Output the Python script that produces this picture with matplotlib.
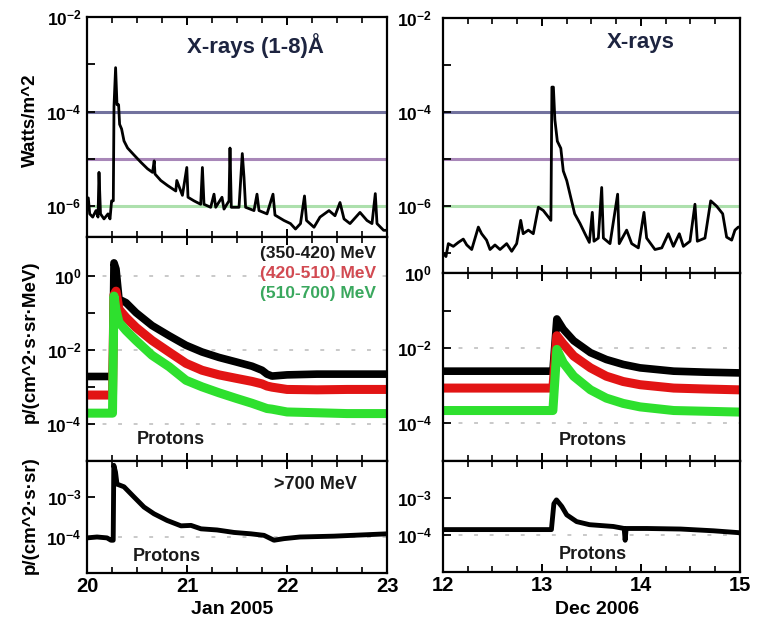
import matplotlib
matplotlib.use('Agg')
import matplotlib.pyplot as plt
from matplotlib.ticker import MultipleLocator, NullLocator

plt.rcParams['font.family'] = ['Liberation Sans', 'DejaVu Sans']
plt.rcParams['font.weight'] = 'bold'
plt.rcParams['mathtext.fontset'] = 'custom'
plt.rcParams['mathtext.rm'] = 'Liberation Sans:bold'
plt.rcParams['mathtext.bf'] = 'Liberation Sans:bold'
plt.rcParams['mathtext.default'] = 'bf'

# ---------------- data ----------------
# GOES X-rays, Jan 2005
xray_jan_t = [20.00, 20.013, 20.027, 20.057, 20.09, 20.11, 20.12, 20.135, 20.17, 20.21, 20.23,
              20.246, 20.263, 20.27, 20.286, 20.30, 20.316, 20.326, 20.346, 20.37, 20.406,
              20.472, 20.539, 20.605, 20.655, 20.672, 20.68, 20.738, 20.805, 20.888, 20.898,
              20.954, 20.998, 21.01, 21.07, 21.137, 21.154, 21.17, 21.237, 21.27, 21.287,
              21.35, 21.37, 21.42, 21.43, 21.443, 21.52, 21.553, 21.57, 21.586, 21.67, 21.70,
              21.72, 21.80, 21.86, 21.88, 21.97, 22.035, 22.085, 22.135, 22.175, 22.195,
              22.27, 22.33, 22.42, 22.48, 22.53, 22.57, 22.63, 22.73, 22.80, 22.85, 22.883,
              22.90, 22.966, 23.0]
xray_jan_f = [1.5e-6, 1.5e-6, 6.9e-7, 5.9e-7, 8.1e-7, 5.9e-7, 5.2e-6, 6.9e-7, 5.4e-7, 6.9e-7, 5.4e-7,
              1.3e-6, 1.3e-6, 1.3e-4, 8.5e-4, 1.4e-4, 1.4e-4, 5.4e-5, 4.3e-5, 2.4e-5, 1.7e-5,
              1.2e-5, 8.5e-6, 6.2e-6, 5.2e-6, 9.1e-6, 4.8e-6, 3.5e-6, 2.75e-6, 2.1e-6, 3.5e-6,
              1.7e-6, 6.6e-6, 1.55e-6, 1.3e-6, 1.1e-6, 6.6e-6, 1.1e-6, 9.5e-7, 1.8e-6, 9.5e-7,
              1.55e-6, 8.7e-7, 1.3e-6, 1.7e-5, 9.5e-7, 9.5e-7, 1.3e-5, 4.1e-6, 9.5e-7, 8.1e-7, 1.8e-6,
              8.1e-7, 6.9e-7, 1.8e-6, 6.5e-7, 5.0e-7, 4.3e-7, 3.3e-7, 4.3e-7, 1.65e-6, 5.0e-7,
              3.6e-7, 5.9e-7, 8.1e-7, 6.3e-7, 1.2e-6, 5.4e-7, 4.3e-7, 7.4e-7, 5.0e-7, 4.3e-7, 1.85e-6,
              4.3e-7, 3.1e-7, 3.1e-7]

# GOES X-rays, Dec 2006
xray_dec_t = [12.00, 12.03, 12.054, 12.104, 12.155, 12.205, 12.24, 12.29, 12.357, 12.39, 12.44,
              12.475, 12.525, 12.576, 12.643, 12.694, 12.744, 12.785, 12.81, 12.862, 12.912,
              12.963, 13.013, 13.064, 13.09, 13.10, 13.115, 13.13, 13.155, 13.19, 13.215, 13.25,
              13.29, 13.33, 13.384, 13.434, 13.478, 13.508, 13.525, 13.569, 13.603, 13.62, 13.687,
              13.764, 13.78, 13.855, 13.906, 13.973, 14.03, 14.057, 14.141, 14.21, 14.276, 14.327,
              14.387, 14.428, 14.495, 14.545, 14.569, 14.646, 14.704, 14.764, 14.825, 14.865,
              14.916, 14.949, 14.983, 15.0]
xray_dec_f = [1.0e-7, 8.5e-8, 1.6e-7, 1.4e-7, 1.7e-7, 2.0e-7, 1.5e-7, 1.2e-7, 3.6e-7, 2.6e-7, 1.9e-7,
              1.2e-7, 1.5e-7, 1.2e-7, 1.6e-7, 1.1e-7, 1.6e-7, 5.0e-7, 2.6e-7, 3.1e-7, 2.6e-7,
              9.5e-7, 8.1e-7, 5.9e-7, 5.0e-7, 3.4e-4, 3.4e-4, 6.9e-5, 2.4e-5, 1.7e-5, 5.6e-6, 3.5e-6,
              1.55e-6, 6.9e-7, 4.3e-7, 2.6e-7, 1.7e-7, 7.4e-7, 1.8e-7, 2.1e-7, 2.5e-6, 2.1e-7, 1.6e-7,
              1.8e-6, 1.6e-7, 3.1e-7, 1.6e-7, 1.3e-7, 7.4e-7, 2.1e-7, 1.2e-7, 1.3e-7, 2.6e-7, 1.4e-7,
              2.6e-7, 1.4e-7, 1.8e-7, 1.1e-6, 1.8e-7, 2.1e-7, 1.3e-6, 1.0e-6, 6.9e-7, 2.2e-7,
              1.9e-7, 3.1e-7, 3.6e-7, 3.6e-7]

# flare class levels (X, M, C)
xray_levels = [1e-4, 1e-5, 1e-6]

# protons, Jan 2005
p_jan_t = [20.00, 20.10, 20.20, 20.255, 20.27, 20.29, 20.32, 20.39, 20.49, 20.65, 20.82, 20.99,
           21.15, 21.32, 21.49, 21.65, 21.75, 21.80, 21.85, 22.00, 22.30, 22.60, 23.00]
p_jan_350 = [1.9e-3, 1.9e-3, 1.9e-3, 1.9e-3, 2.2, 1.5, 0.23, 0.186, 0.1, 0.045, 0.024, 0.0132,
             8.7e-3, 6.2e-3, 4.7e-3, 3.6e-3, 2.8e-3, 2.2e-3, 1.95e-3, 2.1e-3, 2.2e-3, 2.2e-3, 2.2e-3]
p_jan_420 = [6.0e-4, 6.0e-4, 6.0e-4, 6.0e-4, 0.30, 0.38, 0.123, 0.074, 0.040, 0.0178, 8.7e-3, 4.3e-3,
             2.8e-3, 2.1e-3, 1.7e-3, 1.4e-3, 1.2e-3, 1.05e-3, 9.8e-4, 8.5e-4, 8.3e-4, 8.5e-4, 8.5e-4]
p_jan_510 = [1.95e-4, 1.95e-4, 1.95e-4, 1.95e-4, 0.28, 0.12, 0.055, 0.033, 0.0178, 7.1e-3, 3.5e-3, 1.5e-3,
             1.0e-3, 6.9e-4, 4.9e-4, 3.6e-4, 2.9e-4, 2.6e-4, 2.5e-4, 2.1e-4, 2.0e-4, 1.9e-4, 1.9e-4]

# protons, Dec 2006
p_dec_t = [12.00, 12.50, 13.00, 13.11, 13.15, 13.215, 13.32, 13.49, 13.65, 13.82, 13.99, 14.33, 14.66, 15.00]
p_dec_350 = [2.45e-3, 2.45e-3, 2.45e-3, 2.45e-3, 0.060, 0.032, 0.0158, 7.6e-3, 5.0e-3, 3.7e-3, 3.0e-3, 2.45e-3, 2.3e-3, 2.2e-3]
p_dec_420 = [8.7e-4, 8.7e-4, 8.7e-4, 8.7e-4, 0.0214, 0.0129, 6.2e-3, 3.0e-3, 1.8e-3, 1.3e-3, 1.07e-3, 8.7e-4, 8.2e-4, 7.8e-4]
p_dec_510 = [2.2e-4, 2.2e-4, 2.2e-4, 2.2e-4, 9.3e-3, 4.1e-3, 1.8e-3, 7.8e-4, 4.7e-4, 3.4e-4, 2.75e-4, 2.2e-4, 2.1e-4, 2.0e-4]

# protons > 700 MeV
hi_jan_t = [20.00, 20.10, 20.20, 20.24, 20.262, 20.268, 20.285, 20.30, 20.37, 20.47, 20.57, 20.67,
            20.80, 20.94, 21.04, 21.14, 21.30, 21.47, 21.64, 21.77, 21.87, 21.97, 22.13, 22.47, 23.00]
hi_jan = [9.5e-5, 1.0e-4, 9.5e-5, 8.3e-5, 8.3e-5, 6.2e-3, 4.2e-3, 2.1e-3, 1.8e-3, 1.0e-3, 5.6e-4, 3.8e-4,
          2.6e-4, 1.9e-4, 1.95e-4, 1.6e-4, 1.5e-4, 1.3e-4, 1.2e-4, 1.1e-4, 8.3e-5, 9.1e-5, 1.0e-4, 1.05e-4, 1.2e-4]
hi_dec_t = [12.00, 12.50, 13.00, 13.095, 13.12, 13.146, 13.20, 13.25, 13.35, 13.48, 13.72, 13.83,
            13.84, 13.85, 14.06, 14.40, 14.73, 15.00]
hi_dec = [1.4e-4, 1.4e-4, 1.4e-4, 1.4e-4, 7.0e-4, 8.9e-4, 5.9e-4, 3.5e-4, 2.3e-4, 1.9e-4, 1.7e-4, 1.5e-4,
          7.2e-5, 1.5e-4, 1.5e-4, 1.45e-4, 1.3e-4, 1.15e-4]

# ticks
xticks_jan = [20, 21, 22, 23]
xticks_dec = [12, 13, 14, 15]
xray_yticks = [1e-7, 1e-6, 1e-5, 1e-4, 1e-3, 1e-2]
xray_ylabels = ['', r'$10^{-6}$', '', r'$10^{-4}$', '', r'$10^{-2}$']
p_yticks = [1e-5, 1e-4, 1e-3, 1e-2, 1e-1, 1e0]
p_ylabels = ['', r'$10^{-4}$', '', r'$10^{-2}$', '', r'$10^{0}$']
hi_yticks = [1e-4, 1e-3]
hi_ylabels = [r'$10^{-4}$', r'$10^{-3}$']
energy_labels = ['(350-420) MeV', '(420-510) MeV', '(510-700) MeV']

# ---------------- figure ----------------
W, H = 757, 626
fig = plt.figure(figsize=(W / 100, H / 100), dpi=100)


def box(x0, y0, x1, y1):
    return [x0 / W, 1 - y1 / H, (x1 - x0) / W, (y1 - y0) / H]


axL1 = fig.add_axes(box(87, 17, 387, 237))
axL2 = fig.add_axes(box(87, 237, 387, 461))
axL3 = fig.add_axes(box(87, 461, 387, 573))
axR1 = fig.add_axes(box(443, 18, 740, 273))
axR2 = fig.add_axes(box(443, 273, 740, 461))
axR3 = fig.add_axes(box(443, 461, 740, 572))


def style(ax, xlim, xticks, yticks, ylabels, ylim, bottom_labels, ypad):
    ax.set_yscale('log')
    ax.set_xlim(*xlim)
    ax.set_xticks(xticks)
    ax.xaxis.set_minor_locator(MultipleLocator(0.25))
    ax.set_yticks(yticks)
    ax.set_yticklabels(ylabels)
    ax.yaxis.set_minor_locator(NullLocator())
    ax.set_ylim(*ylim)
    for s in ax.spines.values():
        s.set_linewidth(1.6)
    ax.tick_params(axis='x', which='major', direction='in', top=True, bottom=True,
                   length=6, width=1.4, labelbottom=bottom_labels, labelsize=14.5, pad=3)
    ax.tick_params(axis='x', which='minor', direction='in', top=True, bottom=True,
                   length=4, width=1.2)
    ax.tick_params(axis='y', which='major', direction='in', left=True, right=False,
                   length=6, width=1.3, labelsize=12.5, pad=ypad)
    if bottom_labels:
        for lab in ax.get_xticklabels():
            lab.set_fontweight('bold')


xlim_jan = (20, 23)
xlim_dec = (12, 15)

style(axL1, xlim_jan, xticks_jan, xray_yticks, xray_ylabels, (10 ** -6.65, 1e-2), False, 4)
style(axR1, xlim_dec, xticks_dec, xray_yticks, xray_ylabels, (10 ** -7.42, 1e-2), False, 8)
style(axL2, xlim_jan, xticks_jan, p_yticks, p_ylabels, (1e-5, 10 ** 1.04), False, 4)
style(axR2, xlim_dec, xticks_dec, p_yticks, p_ylabels, (1e-5, 1e0), False, 8)
style(axL3, xlim_jan, xticks_jan, hi_yticks, hi_ylabels, (10 ** -4.9, 10 ** -2.1), True, 4)
style(axR3, xlim_dec, xticks_dec, hi_yticks, hi_ylabels, (1e-5, 1e-2), True, 8)

# flare levels
level_colors = ['#72729e', '#a887b8', '#ade0ad']
for ax in (axL1, axR1):
    for lev, c in zip(xray_levels, level_colors):
        ax.axhline(lev, color=c, lw=2.2, zorder=1)

axL1.plot(xray_jan_t, xray_jan_f, color='black', lw=2.0, zorder=3)
axR1.plot(xray_dec_t, xray_dec_f, color='black', lw=2.0, zorder=3)

title_color = '#1d2440'
axL1.text(0.56, 0.87, 'X-rays (1-8)Å', transform=axL1.transAxes, ha='center', va='center',
          fontsize=16, fontweight='bold', color=title_color)
axR1.text(0.665, 0.905, 'X-rays', transform=axR1.transAxes, ha='center', va='center',
          fontsize=16, fontweight='bold', color=title_color)

# grid dashes in proton panels
grid_kw = dict(color='#c9c9c9', lw=1.4, ls=(0, (2, 6)), zorder=0)
for lev in (1e0, 1e-2, 1e-4):
    axL2.axhline(lev, **grid_kw)
for lev in (1e-2, 1e-4):
    axR2.axhline(lev, **grid_kw)
axL3.axhline(1e-4, **grid_kw)
axR3.axhline(1e-4, **grid_kw)

band_colors = ['#000000', '#e21414', '#2ee02e']
for ax, t, series in ((axL2, p_jan_t, (p_jan_350, p_jan_420, p_jan_510)),
                      (axR2, p_dec_t, (p_dec_350, p_dec_420, p_dec_510))):
    for vals, c, lw in zip(series, band_colors, (5.5, 6.5, 6.5)):
        ax.plot(t, vals, color=c, lw=lw, solid_joinstyle='round', zorder=2)

legend_colors = ['#1a1a1a', '#d24a52', '#3aa85e']
for i, (lab, c) in enumerate(zip(energy_labels, legend_colors)):
    axL2.text(0.965, 0.925 - i * 0.088, lab, transform=axL2.transAxes, ha='right', va='center',
              fontsize=12.5, fontweight='bold', color=c)

axL2.text(0.28, 0.095, 'Protons', transform=axL2.transAxes, ha='center', va='center',
          fontsize=13, fontweight='bold', color='#1a1a1a')
axR2.text(0.505, 0.11, 'Protons', transform=axR2.transAxes, ha='center', va='center',
          fontsize=13, fontweight='bold', color='#1a1a1a')

axL3.plot(hi_jan_t, hi_jan, color='black', lw=3.5, zorder=2)
axR3.plot(hi_dec_t, hi_dec, color='black', lw=3.5, zorder=2)
axL3.text(0.76, 0.79, '>700 MeV', transform=axL3.transAxes, ha='center', va='center',
          fontsize=13, fontweight='bold', color='#1a1a1a')
axL3.text(0.265, 0.145, 'Protons', transform=axL3.transAxes, ha='center', va='center',
          fontsize=13, fontweight='bold', color='#1a1a1a')
axR3.text(0.505, 0.155, 'Protons', transform=axR3.transAxes, ha='center', va='center',
          fontsize=13, fontweight='bold', color='#1a1a1a')

# axis labels
fig.text(30 / W, 1 - 120 / H, 'Watts/m^2', rotation=90, ha='center', va='center',
         fontsize=13.5, fontweight='bold')
fig.text(30 / W, 1 - 342 / H, 'p/(cm^2·s·sr·MeV)', rotation=90, ha='center', va='center',
         fontsize=13.5, fontweight='bold')
fig.text(30 / W, 1 - 515 / H, 'p/(cm^2·s·sr)', rotation=90, ha='center', va='center',
         fontsize=13.5, fontweight='bold')
fig.text(232 / W, 1 - 610 / H, 'Jan 2005', ha='center', va='center', fontsize=14, fontweight='bold')
fig.text(597 / W, 1 - 610 / H, 'Dec 2006', ha='center', va='center', fontsize=14, fontweight='bold')

fig.savefig('out.png', dpi=100)
